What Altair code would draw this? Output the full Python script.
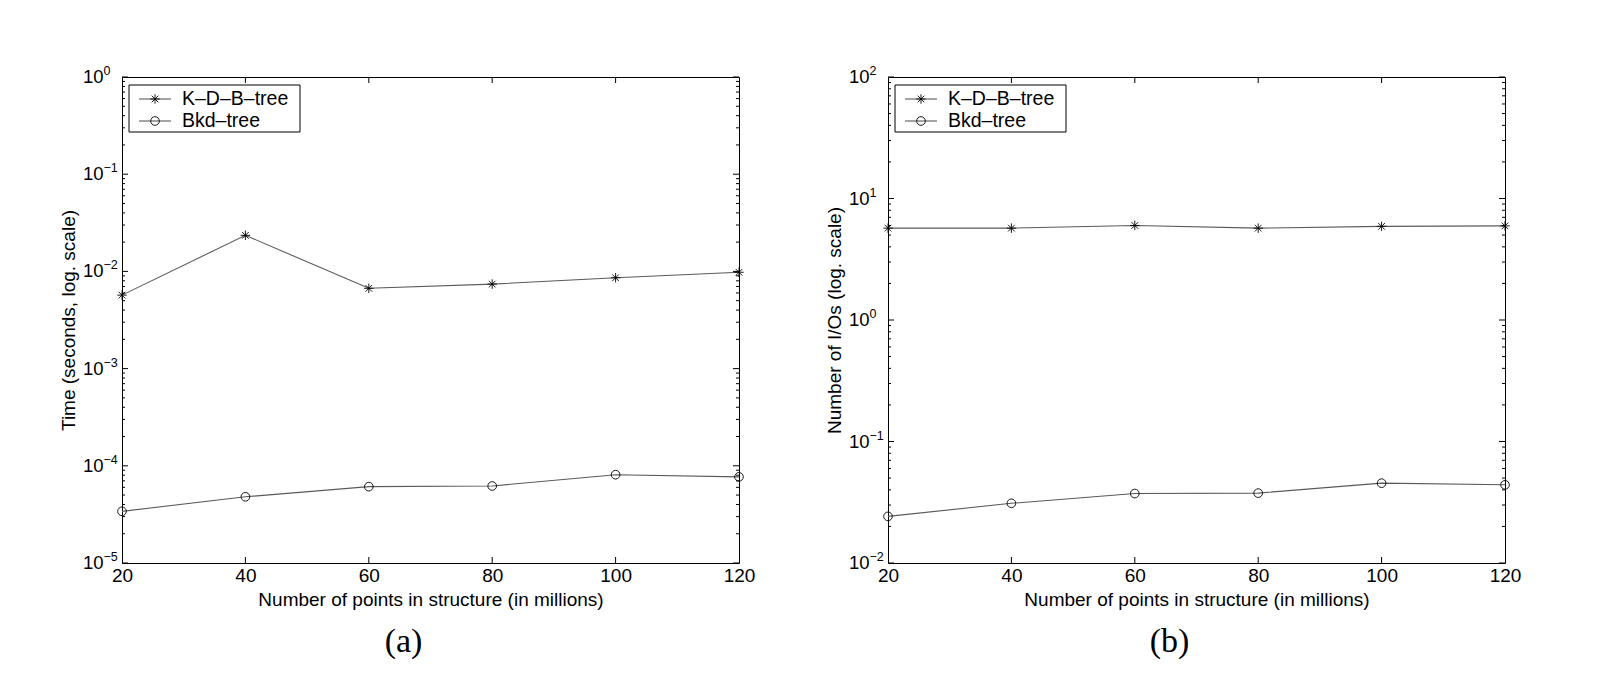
import altair as alt
import pandas as pd

# ---------------- data ----------------
x_vals = [20, 40, 60, 80, 100, 120]
series_names = ["K–D–B–tree", "Bkd–tree"]
time_kdb = [5.7e-3, 2.35e-2, 6.7e-3, 7.4e-3, 8.6e-3, 9.8e-3]
time_bkd = [3.4e-5, 4.8e-5, 6.1e-5, 6.2e-5, 8.1e-5, 7.7e-5]
io_kdb = [5.7, 5.7, 6.0, 5.7, 5.9, 5.95]
io_bkd = [0.0242, 0.031, 0.0373, 0.0376, 0.0454, 0.044]
x_tick_labels = [20, 40, 60, 80, 100, 120]
x_inner_ticks = [40, 60, 80, 100]
x_title = "Number of points in structure (in millions)"

# ---------------- style ----------------
W, H = 617, 486
FONT = "Liberation Sans"
SERIF = "Liberation Serif"
LINE_COLOR = "#5a5a5a"
STAR = "M0,-1L0,1M-1,0L1,0M-0.7,-0.7L0.7,0.7M-0.7,0.7L0.7,-0.7"
shapes = [STAR, "circle"]
sizes = [90, 75]


def exp_text(e):
    return str(e).replace("-", "\u2212")


def panel(kdb, bkd, lo, hi, ytitle, caption):
    df = pd.DataFrame({
        "x": x_vals * 2,
        "y": kdb + bkd,
        "series": [series_names[0]] * len(x_vals) + [series_names[1]] * len(x_vals),
    })
    xs = alt.Scale(domain=[20, 120], nice=False, zero=False)
    ys = alt.Scale(type="log", domain=[10.0 ** lo, 10.0 ** hi], nice=False)
    X = alt.X("x:Q", scale=xs, axis=alt.Axis(
        values=x_tick_labels, ticks=False, tickSize=0, domain=False, grid=False,
        labelFlush=False, labelFont=FONT, labelFontSize=19, labelColor="black",
        labelPadding=3, format="d",
        title=x_title, titleFont=FONT, titleFontSize=19, titleFontWeight="normal",
        titleColor="black", titlePadding=5))
    Y = alt.Y("y:Q", scale=ys, axis=alt.Axis(
        labels=False, ticks=False, tickSize=0, domain=False, grid=False,
        title=ytitle, titleFont=FONT, titleFontSize=19, titleFontWeight="normal",
        titleColor="black", titleX=-54, titleY=H / 2, titleAngle=270,
        titleAlign="center", titleBaseline="middle"))

    line = alt.Chart(df).mark_line(color=LINE_COLOR, strokeWidth=1.1).encode(
        x=X, y=Y, detail="series:N")
    pts = alt.Chart(df).mark_point(filled=False, color="black", strokeWidth=0.9, opacity=1).encode(
        x=X, y=Y,
        shape=alt.Shape("series:N", scale=alt.Scale(domain=series_names, range=shapes), legend=None),
        size=alt.Size("series:N", scale=alt.Scale(domain=series_names, range=sizes), legend=None))

    major = pd.DataFrame({"y": [10.0 ** e for e in range(lo, hi + 1)],
                          "base": ["10"] * (hi - lo + 1),
                          "exp": [exp_text(e) for e in range(lo, hi + 1)]})
    minor = pd.DataFrame({"y": [k * 10.0 ** e for e in range(lo, hi) for k in range(2, 10)]})
    xt = pd.DataFrame({"x": x_inner_ticks})

    layers = [line, pts]
    for d, ln in ((major, 6), (minor, 3)):
        layers.append(alt.Chart(d).mark_rule(color="black", strokeWidth=1).encode(
            y=Y, x=alt.value(0), x2=alt.value(ln)))
        layers.append(alt.Chart(d).mark_rule(color="black", strokeWidth=1).encode(
            y=Y, x=alt.value(W), x2=alt.value(W - ln)))
    layers.append(alt.Chart(xt).mark_rule(color="black", strokeWidth=1).encode(
        x=X, y=alt.value(H), y2=alt.value(H - 6)))
    layers.append(alt.Chart(xt).mark_rule(color="black", strokeWidth=1).encode(
        x=X, y=alt.value(0), y2=alt.value(6)))

    # y tick labels as 10 with a raised exponent
    layers.append(alt.Chart(major).mark_text(align="left", baseline="middle", font=FONT,
                                             fontSize=18.5, color="black").encode(
        y=Y, x=alt.value(-39), text="base:N"))
    layers.append(alt.Chart(major).mark_text(align="left", baseline="middle", font=FONT,
                                             fontSize=12.5, color="black", dy=-6).encode(
        y=Y, x=alt.value(-18.5), text="exp:N"))

    # legend box
    layers.append(alt.Chart(pd.DataFrame({"k": [0]})).mark_rect(
        fill="white", stroke="black", strokeWidth=1).encode(
        x=alt.value(7), x2=alt.value(178), y=alt.value(8), y2=alt.value(55)))
    for i, name in enumerate(series_names):
        yy = 22 + 22 * i
        ld = pd.DataFrame({"label": [name]})
        layers.append(alt.Chart(ld).mark_rule(color=LINE_COLOR, strokeWidth=1.1).encode(
            x=alt.value(17), x2=alt.value(49), y=alt.value(yy)))
        layers.append(alt.Chart(ld).mark_point(shape=shapes[i], size=sizes[i], filled=False,
                                               color="black", strokeWidth=0.9, opacity=1).encode(
            x=alt.value(33), y=alt.value(yy)))
        layers.append(alt.Chart(ld).mark_text(align="left", baseline="middle", font=FONT,
                                              fontSize=19.5, color="black").encode(
            x=alt.value(60), y=alt.value(yy), text="label:N"))

    return alt.layer(*layers).properties(
        width=W, height=H,
        title=alt.TitleParams(caption, orient="bottom", anchor="middle", dx=-27, offset=16,
                              font=SERIF, fontSize=34, fontWeight="normal", color="black"))


left = panel(time_kdb, time_bkd, -5, 0, "Time (seconds, log. scale)", "(a)")
right = panel(io_kdb, io_bkd, -2, 2, "Number of I/Os (log. scale)", "(b)")

chart = alt.hconcat(left, right, spacing=149, bounds="flush").properties(
    padding={"left": 50, "top": 56, "right": 5, "bottom": 5},
    background="white",
).configure_view(stroke="black", strokeWidth=1)

chart.save("out.html", embed_options={"renderer": "svg", "actions": False})
